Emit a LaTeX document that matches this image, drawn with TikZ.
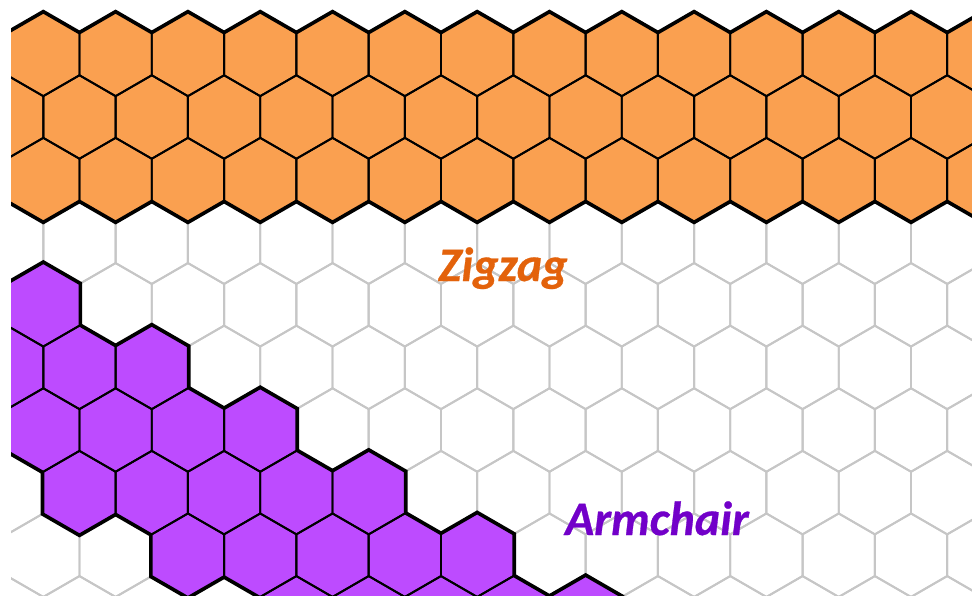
\documentclass[tikz,border=0pt]{standalone}
\usepackage{fontspec}
\setmainfont{Carlito}
\newfontfamily\labelfont[FakeBold=0.6]{Carlito}
\definecolor{bandorange}{HTML}{FAA050}
\definecolor{ribbonpurple}{HTML}{BD4BFF}
\definecolor{gridgray}{HTML}{C6C6C6}
\definecolor{zigtext}{HTML}{E3620B}
\definecolor{armtext}{HTML}{7200C9}
\newcommand{\hexdo}[3]{\path[#1] ({#2+36.155},{#3-20.875}) -- ({#2},{#3-41.75}) -- ({#2-36.155},{#3-20.875}) -- ({#2-36.155},{#3+20.875}) -- ({#2},{#3+41.75}) -- ({#2+36.155},{#3+20.875}) -- cycle;}
\newcommand{\bandpass}[1]{%
  \foreach \r in {1,2,3}{%
    \pgfmathsetmacro\yy{54.4+(\r-1)*62.6}%
    \pgfmathsetmacro\xo{(mod(\r,2)==1) ? 43.3 : 7.15}%
    \foreach \k in {-1,...,13}{%
      \pgfmathsetmacro\xx{\xo+72.31*\k}%
      \hexdo{#1}{\xx}{\yy}%
    }%
  }%
}
\newcommand{\ribbonpass}[1]{%
  \foreach \r/\ka/\kb in {5/-1/0,6/-1/2,7/-1/3,8/1/5,9/2/6,10/4/8}{%
    \pgfmathsetmacro\yy{54.4+(\r-1)*62.6}%
    \pgfmathsetmacro\xo{(mod(\r,2)==1) ? 43.3 : 7.15}%
    \foreach \k in {\ka,...,\kb}{%
      \pgfmathsetmacro\xx{\xo+72.31*\k}%
      \hexdo{#1}{\xx}{\yy}%
    }%
  }%
}
\tikzset{
  gridline/.style={draw=gridgray, line width=1.9pt},
  outerline/.style={draw=black, line width=5.4pt},
  innerline/.style={draw=black, line width=1.9pt},
  labeltext/.style={font=\labelfont\bfseries\itshape\fontsize{48}{48}\selectfont, inner sep=0pt, anchor=base},
}
\begin{document}
\begin{tikzpicture}[x=1pt,y=-1pt]
\useasboundingbox (0,0) rectangle (972,595);
\fill[white] (0,0) rectangle (972,595);
\begin{scope}
\clip (11,0) rectangle (972,595);
% background lattice
\foreach \r in {1,...,10}{%
  \pgfmathsetmacro\yy{54.4+(\r-1)*62.6}%
  \pgfmathsetmacro\xo{(mod(\r,2)==1) ? 43.3 : 7.15}%
  \foreach \k in {-1,...,13}{%
    \pgfmathsetmacro\xx{\xo+72.31*\k}%
    \hexdo{gridline}{\xx}{\yy}%
  }%
}
% zigzag band
\bandpass{outerline}
\bandpass{fill=bandorange}
\bandpass{innerline}
% armchair ribbon
\ribbonpass{outerline}
\ribbonpass{fill=ribbonpurple}
\ribbonpass{innerline}
\end{scope}
\node[labeltext, text=zigtext] (zig) at (503,281) {Zigzag};
\node[labeltext, text=armtext] (arm) at (657,535) {Armchair};
\end{tikzpicture}
\end{document}
